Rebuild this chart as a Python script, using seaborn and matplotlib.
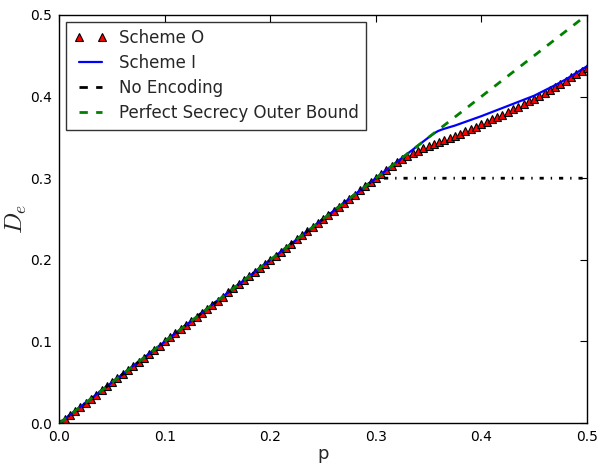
import matplotlib
matplotlib.use("Agg")
import matplotlib.pyplot as plt
import seaborn as sns

# ---- data ----
p_O = [0.000, 0.005, 0.010, 0.015, 0.020, 0.025, 0.030, 0.035, 0.040, 0.045,
       0.050, 0.055, 0.060, 0.065, 0.070, 0.075, 0.080, 0.085, 0.090, 0.095,
       0.100, 0.105, 0.110, 0.115, 0.120, 0.125, 0.130, 0.135, 0.140, 0.145,
       0.150, 0.155, 0.160, 0.165, 0.170, 0.175, 0.180, 0.185, 0.190, 0.195,
       0.200, 0.205, 0.210, 0.215, 0.220, 0.225, 0.230, 0.235, 0.240, 0.245,
       0.250, 0.255, 0.260, 0.265, 0.270, 0.275, 0.280, 0.285, 0.290, 0.295,
       0.300, 0.305, 0.310, 0.315, 0.320, 0.325, 0.330, 0.335, 0.340, 0.345,
       0.350, 0.355, 0.360, 0.365, 0.370, 0.375, 0.380, 0.385, 0.390, 0.395,
       0.400, 0.405, 0.410, 0.415, 0.420, 0.425, 0.430, 0.435, 0.440, 0.445,
       0.450, 0.455, 0.460, 0.465, 0.470, 0.475, 0.480, 0.485, 0.490, 0.495,
       0.500]
de_O = [0.000, 0.005, 0.010, 0.015, 0.020, 0.025, 0.030, 0.035, 0.040, 0.045,
        0.050, 0.055, 0.060, 0.065, 0.070, 0.075, 0.080, 0.085, 0.090, 0.095,
        0.100, 0.105, 0.110, 0.115, 0.120, 0.125, 0.130, 0.135, 0.140, 0.145,
        0.150, 0.155, 0.160, 0.165, 0.170, 0.175, 0.180, 0.185, 0.190, 0.195,
        0.200, 0.205, 0.210, 0.215, 0.220, 0.225, 0.230, 0.235, 0.240, 0.245,
        0.250, 0.255, 0.260, 0.265, 0.270, 0.275, 0.280, 0.285, 0.290, 0.295,
        0.300, 0.305, 0.310, 0.3148, 0.3193, 0.3235, 0.3275, 0.3308, 0.3337, 0.3365,
        0.3390, 0.3415, 0.3440, 0.3466, 0.3493, 0.3520, 0.3547, 0.3575, 0.3603, 0.3631,
        0.3660, 0.3690, 0.3720, 0.3750, 0.3780, 0.3810, 0.3843, 0.3876, 0.3910, 0.3943,
        0.3975, 0.4011, 0.4047, 0.4083, 0.4120, 0.4157, 0.4195, 0.4234, 0.4273, 0.4312,
        0.4350]

p_I = [0.0, 0.35, 0.355, 0.359, 0.363, 0.368, 0.375, 0.38, 0.39, 0.40, 0.41, 0.42, 0.43,
       0.44, 0.45, 0.46, 0.47, 0.48, 0.49, 0.5]
de_I = [0.0, 0.35, 0.3548, 0.3578, 0.3598, 0.3618, 0.3645, 0.3668, 0.3714, 0.376, 0.381,
        0.386, 0.391, 0.396, 0.401, 0.4075, 0.414, 0.421, 0.429, 0.437]

p_NE = [0.0, 0.3, 0.5]
de_NE = [0.0, 0.3, 0.3]

p_PS = [0.0, 0.5]
de_PS = [0.0, 0.5]

x_ticks = [0.0, 0.1, 0.2, 0.3, 0.4, 0.5]
y_ticks = [0.0, 0.1, 0.2, 0.3, 0.4, 0.5]

sns.set_style("white")
plt.rcParams['font.family'] = ['DejaVu Sans']
plt.rcParams['mathtext.fontset'] = 'cm'

fig = plt.figure(figsize=(6.0, 4.67), dpi=100)
ax = fig.add_axes([0.099, 0.094, 0.879, 0.874])

DASHDOT = (1.5, 2.5, 0.5, 2.5)
DASHED = (3, 3)

sns.lineplot(x=p_O, y=de_O, ax=ax, linestyle='', marker='^', markersize=5.8,
             markerfacecolor='red', markeredgecolor='black', markeredgewidth=0.8,
             label='Scheme O', sort=False)
sns.lineplot(x=p_I, y=de_I, ax=ax, color='blue', linewidth=1.6, label='Scheme I', sort=False)
sns.lineplot(x=p_NE, y=de_NE, ax=ax, color='black', linewidth=2, linestyle='-.',
             label='No Encoding', sort=False)
sns.lineplot(x=p_PS, y=de_PS, ax=ax, color='green', linewidth=2, linestyle='--',
             label='Perfect Secrecy Outer Bound', sort=False)

for line in ax.get_lines():
    ls = line.get_linestyle()
    if ls == '-.':
        line.set_dashes(DASHDOT)
    elif ls == '--':
        line.set_dashes(DASHED)

ax.set_xlim(0, 0.5)
ax.set_ylim(0, 0.5)
ax.set_xticks(x_ticks)
ax.set_yticks(y_ticks)
ax.set_xticklabels([f"{v:.1f}" for v in x_ticks])
ax.set_yticklabels([f"{v:.1f}" for v in y_ticks])
ax.tick_params(direction='in', length=5, width=0.8, top=True, right=True,
               labelsize=10, pad=5, colors='black')
for s in ax.spines.values():
    s.set_color('black')
    s.set_linewidth(1)

ax.set_xlabel('p', fontsize=13, labelpad=1)
ax.set_ylabel(r'$D_e$', fontsize=18, labelpad=1)

leg = ax.legend(loc='upper left', numpoints=2, fontsize=12, frameon=True,
                fancybox=False, handlelength=2.0, handletextpad=0.7,
                borderpad=0.45, labelspacing=0.42, borderaxespad=0.4)
leg.get_frame().set_edgecolor('black')
leg.get_frame().set_linewidth(1)
for h in leg.legend_handles:
    if h.get_linestyle() == '-.':
        h.set_dashes(DASHDOT)
    elif h.get_linestyle() == '--':
        h.set_dashes(DASHED)

fig.savefig('out.png', dpi=100)
